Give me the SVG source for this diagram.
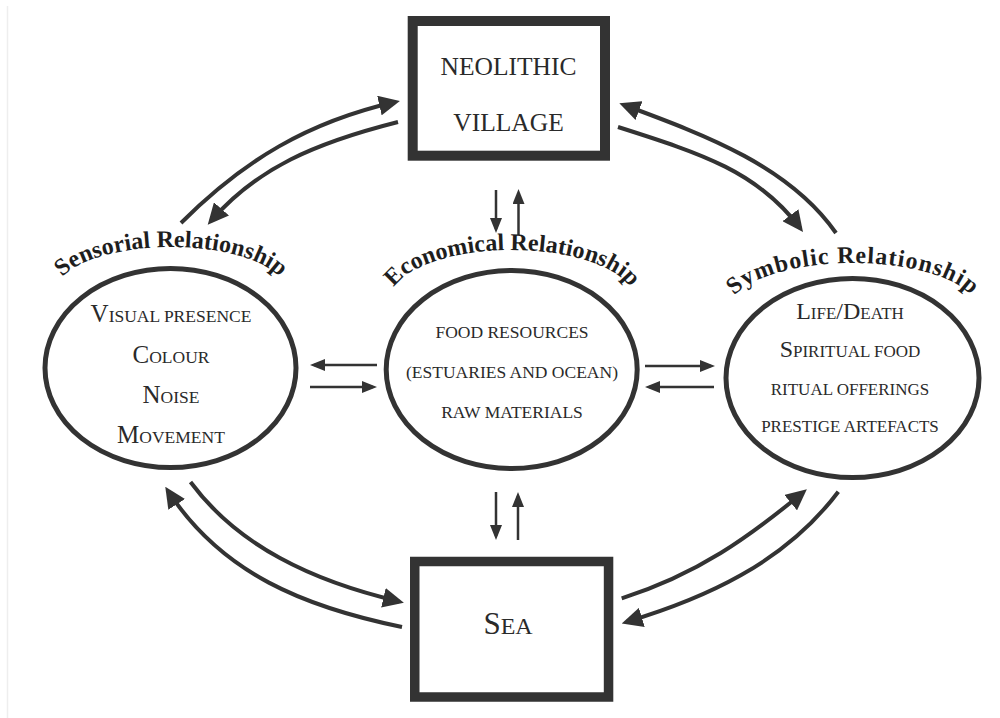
<svg xmlns="http://www.w3.org/2000/svg" width="1000" height="718" viewBox="0 0 1000 718">
<defs>
<style>
.box{fill:#fff;stroke:#333}
.ell{fill:#fff;stroke:#333;stroke-width:5}
.t{font-family:"Liberation Serif","Times New Roman",serif;fill:#2a2a2a;text-anchor:middle}
.arc{font-family:"Liberation Serif","Times New Roman",serif;font-weight:bold;fill:#1e1e1e;font-size:24px}
.big{fill:none;stroke:#333;stroke-width:4;marker-end:url(#ah)}
.sm{fill:none;stroke:#333;stroke-width:2.5;marker-end:url(#as)}
</style>
<marker id="ah" viewBox="0 0 21 20" refX="16" refY="10" markerWidth="21" markerHeight="20" markerUnits="userSpaceOnUse" orient="auto"><path d="M0,0 L21,10 L0,20 z" fill="#333"/></marker>
<marker id="as" viewBox="0 0 15 12" refX="11" refY="6" markerWidth="15" markerHeight="12" markerUnits="userSpaceOnUse" orient="auto"><path d="M0,0 L15,6 L0,12 z" fill="#333"/></marker>
<path id="arcS" d="M56,292 A115,45 0 0 1 286,292"/>
<path id="arcE" d="M390,300 A122,50 0 0 1 634,300"/>
<path id="arcY" d="M728,311 A125,48 0 0 1 978,311"/>
</defs>
<rect width="1000" height="718" fill="#fff"/>
<line x1="7.5" y1="6" x2="7.5" y2="718" stroke="#eeeeee" stroke-width="1.5"/>

<g id="connectors">
<path class="big" d="M181,223 C244,160 308,122 395,102"/>
<path class="big" d="M398,122 C315,143 257,168 211,221"/>
<path class="big" d="M836,233 C790,167 708,136 624,105"/>
<path class="big" d="M618,127 C703,154 758,172 800,228"/>
<path class="big" d="M402,627 C305,607 222,574 168,491"/>
<path class="big" d="M190.5,482 C238,546 312,581 399,601.5"/>
<path class="big" d="M621.7,598.3 C698,574 749,537 803,492.5"/>
<path class="big" d="M838.3,491.7 C784,564 703,599 626.5,622"/>
<path class="sm" d="M496,190 L496,229"/>
<path class="sm" d="M518.5,235 L518.5,193"/>
<path class="sm" d="M496,492 L496,536"/>
<path class="sm" d="M518,540 L518,496"/>
<path class="sm" d="M377,365 L314,365"/>
<path class="sm" d="M310,387 L373,387"/>
<path class="sm" d="M645,366 L711,366"/>
<path class="sm" d="M714,387 L649,387"/>
</g>

<g id="village">
<rect class="box" x="412.7" y="21" width="192.3" height="134.7" stroke-width="10"/>
<text class="t" x="508.5" y="75" font-size="25.5">NEOLITHIC</text>
<text class="t" x="508.5" y="130.7" font-size="25.5">VILLAGE</text>
</g>

<g id="sea">
<rect class="box" x="414.75" y="561.5" width="193.8" height="135.5" stroke-width="9.5"/>
<text class="t" x="508" y="634" font-size="31">S<tspan font-size="24">EA</tspan></text>
</g>

<g id="sensorial">
<ellipse class="ell" cx="170.5" cy="368" rx="125.5" ry="99.5"/>
<text class="arc"><textPath href="#arcS" startOffset="50%" text-anchor="middle">Sensorial Relationship</textPath></text>
<text class="t" x="171" y="321.7" font-size="25">V<tspan font-size="17.5">ISUAL PRESENCE</tspan></text>
<text class="t" x="171" y="362.7" font-size="25">C<tspan font-size="17.5">OLOUR</tspan></text>
<text class="t" x="171" y="402.7" font-size="25">N<tspan font-size="17.5">OISE</tspan></text>
<text class="t" x="171" y="442.7" font-size="25">M<tspan font-size="17.5">OVEMENT</tspan></text>
</g>

<g id="economical">
<ellipse class="ell" cx="511.7" cy="369.5" rx="125.5" ry="99"/>
<text class="arc" font-size="23.5"><textPath href="#arcE" startOffset="50%" text-anchor="middle">Economical Relationship</textPath></text>
<text class="t" x="512" y="338.3" font-size="17.5">FOOD RESOURCES</text>
<text class="t" x="512" y="378.3" font-size="17.5">(ESTUARIES AND OCEAN)</text>
<text class="t" x="512" y="418.3" font-size="17.5">RAW MATERIALS</text>
</g>

<g id="symbolic">
<ellipse class="ell" cx="852.5" cy="378" rx="126.5" ry="99.5"/>
<text class="arc" letter-spacing="1"><textPath href="#arcY" startOffset="50%" text-anchor="middle">Symbolic Relationship</textPath></text>
<text class="t" x="850" y="319.3" font-size="24">L<tspan font-size="17">IFE</tspan>/D<tspan font-size="17">EATH</tspan></text>
<text class="t" x="850" y="356.7" font-size="24">S<tspan font-size="17">PIRITUAL FOOD</tspan></text>
<text class="t" x="850" y="395" font-size="17">RITUAL OFFERINGS</text>
<text class="t" x="850" y="431.7" font-size="17">PRESTIGE ARTEFACTS</text>
</g>
</svg>
